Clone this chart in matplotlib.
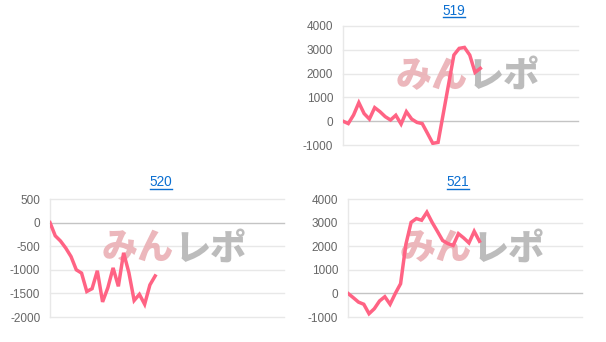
import matplotlib
matplotlib.use("Agg")
import matplotlib.pyplot as plt
from matplotlib.lines import Line2D

plt.rcParams['font.family'] = ['Liberation Sans', 'DejaVu Sans']

titles = ["519", "520", "521"]

values_519 = [0, -100, 260, 780, 320, 90, 570, 400, 190, 50, 250, -120, 400, 90,
              -50, -100, -510, -930, -890, 330, 1560, 2780, 3060, 3100, 2780, 2050, 2220]
values_520 = [0, -280, -390, -540, -720, -1000, -1070, -1460, -1400, -1020, -1680,
              -1380, -960, -1350, -640, -1060, -1650, -1520, -1730, -1320, -1130]
values_521 = [0, -180, -370, -460, -860, -650, -320, -140, -460, 0, 410, 2070, 3010,
              3170, 3100, 3440, 3010, 2630, 2240, 2110, 2030, 2530, 2350, 2140, 2630, 2210]

yticks_519 = [-1000, 0, 1000, 2000, 3000, 4000]
yticks_520 = [-2000, -1500, -1000, -500, 0, 500]
yticks_521 = [-1000, 0, 1000, 2000, 3000, 4000]

n_slots = 45

W, H = 606, 342
fig = plt.figure(figsize=(W / 100, H / 100), dpi=100)

LINE = '#ff6384'
GRID = '#e8e8e8'
ZERO = '#c4c4c4'
TICK = '#666666'
LINK = '#0b6fd1'
WM_FAMILY = ['Noto Sans CJK JP', 'DejaVu Sans']

panels = [
    (titles[0], values_519, yticks_519, (343, 578, 26, 145), (454, 11)),
    (titles[1], values_520, yticks_520, (50, 284, 199, 317), (161, 182.5)),
    (titles[2], values_521, yticks_521, (348, 582, 199, 317), (458, 182.5)),
]

for title, vals, ticks, (x0, x1, ytop, ybot), (tx, ty) in panels:
    ax = fig.add_axes([x0 / W, 1 - ybot / H, (x1 - x0) / W, (ybot - ytop) / H])
    ax.set_xlim(0, n_slots - 0.5)
    ax.set_ylim(ticks[0], ticks[-1])
    ax.set_yticks(ticks)
    ax.set_yticklabels([str(t) for t in ticks])
    ax.set_xticks([])
    for t in ticks:
        ax.axhline(t, color=ZERO if t == 0 else GRID, lw=1.0, zorder=1,
                   clip_on=False)
    for s in ['top', 'right', 'bottom']:
        ax.spines[s].set_visible(False)
    ax.spines['left'].set_color(GRID)
    ax.spines['left'].set_linewidth(1.0)
    ax.tick_params(axis='y', length=0, pad=7, labelsize=8.5, labelcolor=TICK)
    ax.set_facecolor('none')
    # watermark
    ax.text(0.53, 0.58, "みん", transform=ax.transAxes, fontsize=26,
            fontweight='heavy', color='#eab0b5', alpha=0.9, ha='right',
            va='center', family=WM_FAMILY, zorder=2)
    ax.text(0.53, 0.58, "レポ", transform=ax.transAxes, fontsize=26,
            fontweight='heavy', color='#b5b5b5', alpha=0.9, ha='left',
            va='center', family=WM_FAMILY, zorder=2)
    ax.plot(range(len(vals)), vals, color=LINE, lw=2.5, zorder=3,
            solid_joinstyle='miter')
    # title (link style)
    fig.text(tx / W, 1 - ty / H, title, color=LINK, fontsize=9.8, ha='center',
             va='center')
    fig.add_artist(Line2D([(tx - 11) / W, (tx + 11) / W],
                          [1 - (ty + 6) / H, 1 - (ty + 6) / H],
                          color=LINK, lw=1.0, transform=fig.transFigure))

fig.savefig("out.png", dpi=100)
